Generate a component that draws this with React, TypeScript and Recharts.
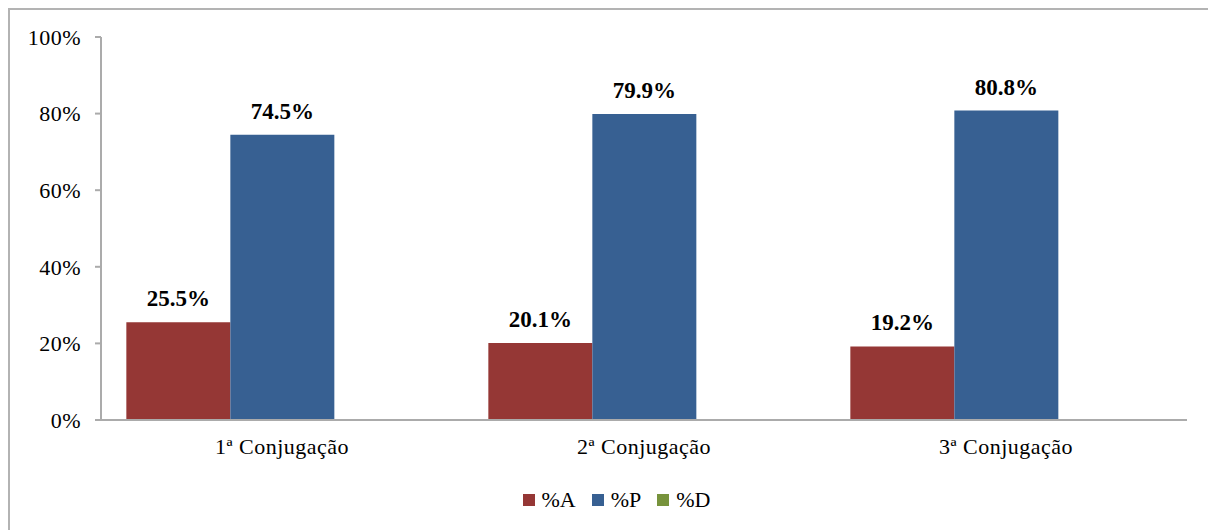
import React from "react";
import { BarChart, Bar, XAxis, YAxis, Legend, LabelList } from "recharts";

const categories = ["1ª Conjugação", "2ª Conjugação", "3ª Conjugação"];
const seriesA = [25.5, 20.1, 19.2];
const seriesP = [74.5, 79.9, 80.8];
const seriesD = [0, 0, 0];
const yTicks = [0, 20, 40, 60, 80, 100];
const boundaryTicks = [0, 1, 2, 3];

const seriesDefs = [
  { key: "A", name: "%A", color: "#953735", label: true },
  { key: "P", name: "%P", color: "#376092", label: true },
  { key: "D", name: "%D", color: "#77933C", label: false },
];

const data = categories.map((c, i) => ({
  cat: c,
  A: seriesA[i],
  P: seriesP[i],
  D: seriesD[i],
}));

const FONT = '"Liberation Serif", "Times New Roman", serif';
const AXIS = "#ababab";

const LegendContent = () => (
  <div
    style={{
      display: "flex",
      justifyContent: "center",
      alignItems: "center",
      fontFamily: FONT,
      fontSize: 22,
      lineHeight: "26px",
      color: "#000",
      paddingLeft: 8,
    }}
  >
    {seriesDefs.map((s) => (
      <div key={s.key} style={{ display: "flex", alignItems: "center", margin: "0 8px" }}>
        <span style={{ width: 12, height: 12, background: s.color, display: "inline-block", marginRight: 7 }} />
        <span>{s.name}</span>
      </div>
    ))}
  </div>
);

export default function App() {
  return (
    <div
      style={{
        width: 1208,
        height: 522,
        boxSizing: "border-box",
        borderTop: "2px solid #b3b3b3",
        borderLeft: "2px solid #b3b3b3",
        borderRight: "1px solid #e8e8e8",
        background: "#fff",
        fontFamily: FONT,
      }}
    >
      <BarChart
        width={1205}
        height={520}
        data={data}
        margin={{ top: 27, right: 28, bottom: 70, left: 0 }}
        barCategoryGap="7%"
        barGap={0}
      >
        <XAxis
          xAxisId="b"
          type="number"
          domain={[0, 3]}
          ticks={boundaryTicks}
          height={0}
          axisLine={false}
          tick={false}
          tickLine={{ stroke: AXIS, strokeWidth: 2 }}
          tickSize={7}
        />
        <XAxis
          xAxisId="a"
          dataKey="cat"
          height={40}
          axisLine={{ stroke: AXIS, strokeWidth: 2 }}
          tickLine={false}
          tickMargin={12}
          tick={{ fill: "#000", fontSize: 22, fontFamily: FONT, letterSpacing: 0.5 }}
        />
        <YAxis
          width={91}
          domain={[0, 100]}
          ticks={yTicks}
          tickFormatter={(v) => `${v}%`}
          axisLine={{ stroke: AXIS, strokeWidth: 2 }}
          tickLine={{ stroke: AXIS, strokeWidth: 2 }}
          tickSize={6}
          tickMargin={14}
          tick={{ fill: "#000", fontSize: 22, fontFamily: FONT, letterSpacing: 0.5 }}
        />
        <Legend
          verticalAlign="middle"
          align="center"
          wrapperStyle={{ top: 477, left: 0, width: 1205 }}
          content={LegendContent}
        />
        {seriesDefs.map((s) => (
          <Bar
            key={s.key}
            xAxisId="a"
            dataKey={s.key}
            name={s.name}
            fill={s.color}
            isAnimationActive={false}
          >
            {s.label && (
              <LabelList
                dataKey={s.key}
                position="top"
                offset={16}
                formatter={(v) => `${Number(v).toFixed(1)}%`}
                style={{ fill: "#000", fontSize: 23, fontWeight: "bold", fontFamily: FONT }}
              />
            )}
          </Bar>
        ))}
      </BarChart>
    </div>
  );
}
